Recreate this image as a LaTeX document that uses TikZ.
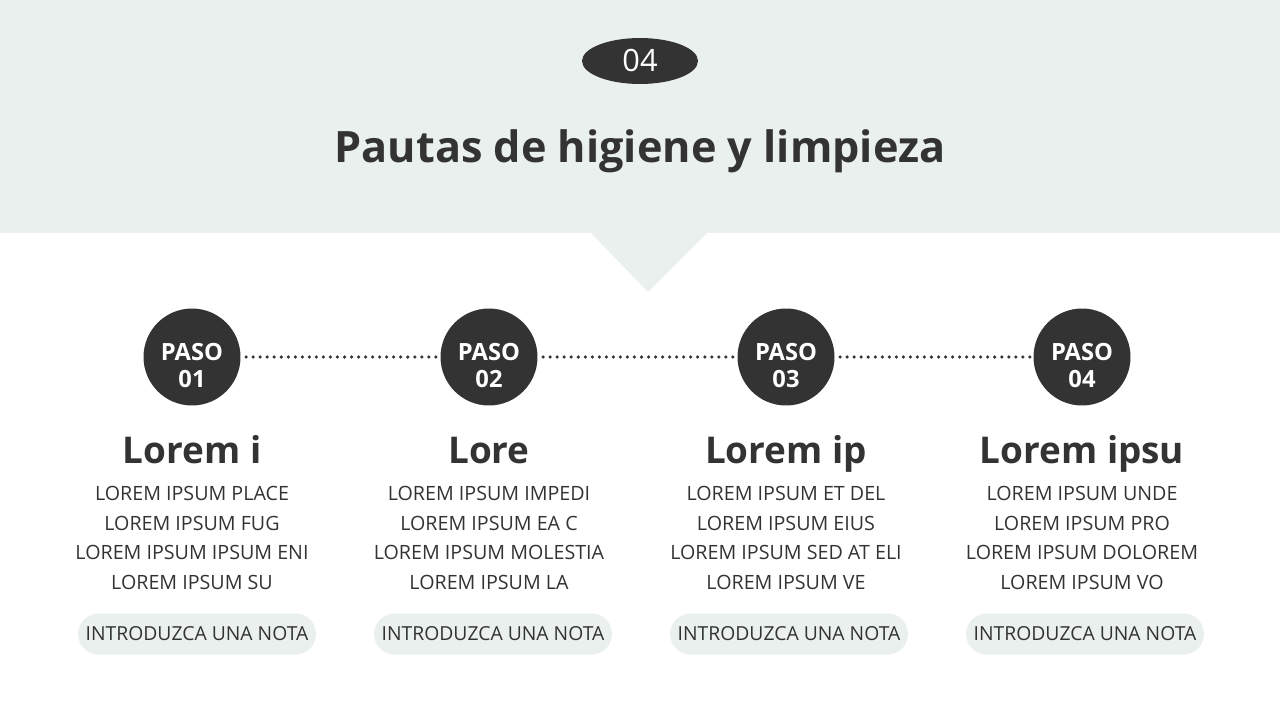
\documentclass[tikz,border=0pt]{standalone}
\usepackage{fontspec}
\setmainfont{Open Sans}
\usetikzlibrary{shapes.geometric}
\definecolor{oscuro}{HTML}{333333}
\definecolor{banda}{HTML}{EAF0EE}

\begin{document}
\begin{tikzpicture}[
    x=0.02cm, y=-0.02cm,
    pasotxt/.style={text=white, align=center, yshift=-4.6pt, font=\fontsize{13.5}{15.3}\selectfont\bfseries},
    paso/.style={circle, fill=oscuro, minimum size=1.94cm, inner sep=0pt, label={[pasotxt]center:PASO\\#1}},
    cabecera/.style={anchor=base, text=oscuro, font=\fontsize{21}{25}\selectfont\bfseries},
    cuerpo/.style={text=oscuro, align=center, font=\fontsize{11.2}{17}\selectfont},
    nota/.style={fill=banda, rounded corners=0.41cm, minimum width=4.76cm, minimum height=0.82cm, text=oscuro, font=\fontsize{11}{13}\selectfont},
    puntos/.style={oscuro, line width=2pt, dash pattern=on 0pt off 4pt, line cap=round, shorten <=3pt, shorten >=1pt}
]
\useasboundingbox (0,0) rectangle (1280,720);

% Banda superior
\fill[banda] (0,0) rectangle (1280,233);
\fill[banda] (590,232) -- (708,232) -- (648,292) -- cycle;

\node[ellipse, fill=oscuro, text=white, minimum width=2.32cm, minimum height=0.92cm, inner sep=0pt, font=\fontsize{17.5}{19}\selectfont] (num) at (640,61) {04};
\node[anchor=base, text=oscuro, font=\fontsize{24.6}{28}\selectfont\bfseries] (titulo) at (640,162) {Pautas de higiene y limpieza};

% Pasos
\node[paso=01] (paso1) at (192,357) {};
\node[paso=02] (paso2) at (489,357) {};
\node[paso=03] (paso3) at (786,357) {};
\node[paso=04] (paso4) at (1082,357) {};

% Textos
\node[cabecera] (cab1) at (192,463) {Lorem i};
\node[cabecera] (cab2) at (489,463) {Lore};
\node[cabecera] (cab3) at (786,463) {Lorem ip};
\node[cabecera] (cab4) at (1082,463) {Lorem ipsu};

\node[cuerpo] (txt1) at (192,538) {LOREM IPSUM PLACE\\LOREM IPSUM FUG\\LOREM IPSUM IPSUM ENI\\LOREM IPSUM SU};
\node[cuerpo] (txt2) at (489,538) {LOREM IPSUM IMPEDI\\LOREM IPSUM EA C\\LOREM IPSUM MOLESTIA\\LOREM IPSUM LA};
\node[cuerpo] (txt3) at (786,538) {LOREM IPSUM ET DEL\\LOREM IPSUM EIUS\\LOREM IPSUM SED AT ELI\\LOREM IPSUM VE};
\node[cuerpo] (txt4) at (1082,538) {LOREM IPSUM UNDE\\LOREM IPSUM PRO\\LOREM IPSUM DOLOREM\\LOREM IPSUM VO};

% Notas
\node[nota] (nota1) at (197,634) {INTRODUZCA UNA NOTA};
\node[nota] (nota2) at (493,634) {INTRODUZCA UNA NOTA};
\node[nota] (nota3) at (789,634) {INTRODUZCA UNA NOTA};
\node[nota] (nota4) at (1085,634) {INTRODUZCA UNA NOTA};

% Conexiones
\foreach \a/\b in {paso1/paso2, paso2/paso3, paso3/paso4}
    \draw[puntos] (\a) -- (\b);

\end{tikzpicture}
\end{document}
